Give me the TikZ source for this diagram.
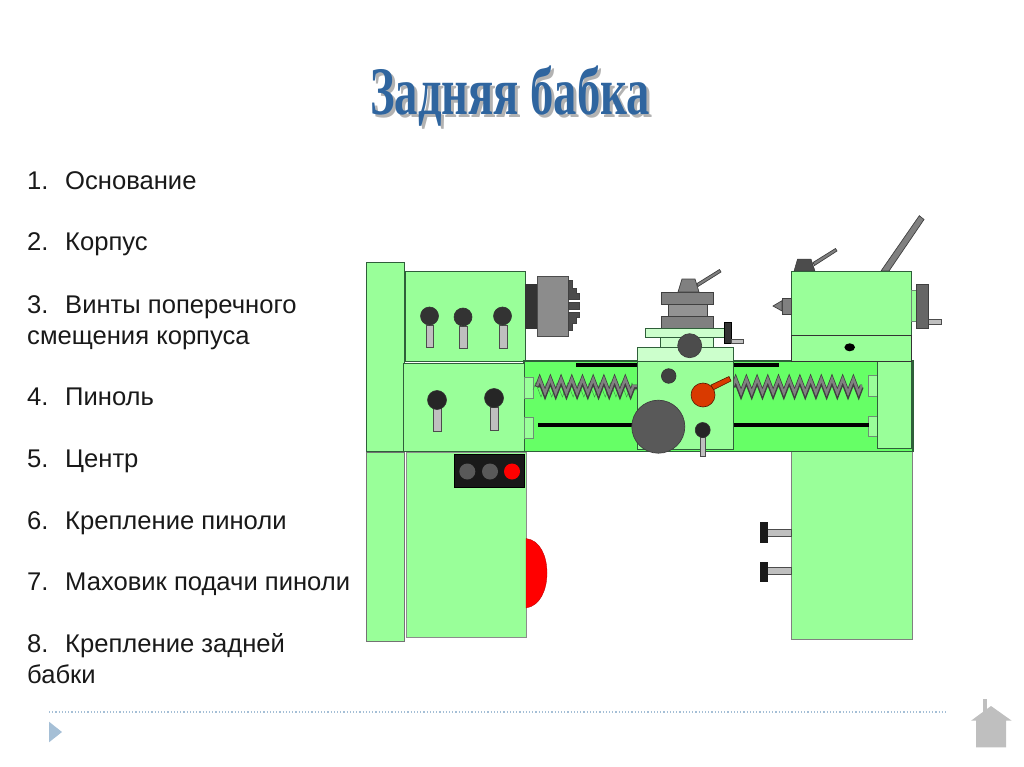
\documentclass[tikz,border=0pt]{standalone}
\usepackage{fontspec}
\usepackage{tikz}
\usetikzlibrary{decorations.pathmorphing}
\setmainfont{Liberation Sans}
\newfontfamily\titlefont{Liberation Serif}
\definecolor{bodygreen}{HTML}{99FF99}
\definecolor{bedgreen}{HTML}{66FF66}
\definecolor{palegreen}{HTML}{CCFFCC}
\definecolor{edgegreen}{HTML}{2F5F3A}
\definecolor{titleblue}{HTML}{2F659F}
\definecolor{steel}{HTML}{808080}
\definecolor{darksteel}{HTML}{595959}
\definecolor{footblue}{HTML}{A5BFD6}
\definecolor{leverred}{HTML}{D93A00}
\newcommand{\titletext}{\scalebox{0.685}[1]{Задняя бабка}}

\begin{document}
\begin{tikzpicture}[
  x=1pt, y=-1pt,
  item/.style={anchor=base west, inner sep=0pt, font=\fontsize{25.6}{30}\selectfont, text=black!90},
  titlenode/.style={inner sep=0pt, font=\titlefont\bfseries\fontsize{68}{78}\selectfont},
  part/.style={draw=edgegreen, line width=0.9pt, fill=bodygreen},
  bed/.style={draw=edgegreen, line width=1.1pt, fill=bedgreen},
  slab/.style={draw=edgegreen, line width=0.8pt, fill=palegreen},
  tag/.style={draw=edgegreen!70!white, line width=0.7pt, fill=bodygreen},
  ball/.style={draw=black!80, line width=0.6pt, fill=black!85},
  stem/.style={draw=black!70, line width=0.7pt, fill=black!25},
  metal/.style={draw=black!75, line width=0.7pt, fill=steel},
  wheel/.style={draw=black!75, line width=0.7pt, fill=darksteel},
  lever/.style={draw=black!60!leverred, line width=0.6pt, fill=leverred},
  bar/.style={fill=black},
  screw/.style={decorate, decoration={zigzag, segment length=10.7pt, amplitude=7pt}}
]
  \useasboundingbox (0,0) rectangle (1024,767);

  % title and list
  \node[titlenode, text=black!30] (titleshadow) at (513,99) {\titletext};
  \node[titlenode, text=titleblue] (title) at (510,96) {\titletext};

  \node[item] (n1) at (27,190) {1.};
  \node[item] (t1) at (65,190) {Основание};
  \node[item] (n2) at (27,251) {2.};
  \node[item] (t2) at (65,251) {Корпус};
  \node[item] (n3) at (27,313) {3.};
  \node[item] (t3) at (65,313) {Винты поперечного};
  \node[item] (t3b) at (27,344) {смещения корпуса};
  \node[item] (n4) at (27,405) {4.};
  \node[item] (t4) at (65,405) {Пиноль};
  \node[item] (n5) at (27,467) {5.};
  \node[item] (t5) at (65,467) {Центр};
  \node[item] (n6) at (27,529) {6.};
  \node[item] (t6) at (65,529) {Крепление пиноли};
  \node[item] (n7) at (27,590) {7.};
  \node[item] (t7) at (65,590) {Маховик подачи пиноли};
  \node[item] (n8) at (27,652) {8.};
  \node[item] (t8) at (65,652) {Крепление задней};
  \node[item] (t8b) at (27,683) {бабки};

  % legs
  \draw[part, draw=black!55] (366.5,452) rectangle (404.5,641);
  \draw[part, draw=black!45] (406,452) rectangle (526,637.5);
  \draw[part, draw=black!50] (791.5,451) rectangle (912,639.5);
  \fill[red, draw=red!70!black, line width=0.3pt] (526,538.5) .. controls (540,540) and (547,556) .. (547,573) .. controls (547,590) and (540,606) .. (526,608) -- cycle;
  \draw[draw=black, fill=black!90] (454.5,454.5) rectangle (524.5,487.5);
  \fill[darksteel] (467.3,471.5) circle (8);
  \fill[darksteel] (490,471.5) circle (8);
  \fill[red] (512,471.5) circle (8);

  % clamps on the right leg
  \draw[stem] (767.5,529.5) rectangle (791,536.5);
  \draw[stem] (767.5,567.5) rectangle (791,574.5);
  \fill[black!90] (759.5,521.5) rectangle (767.5,543);
  \fill[black!90] (759.5,561.5) rectangle (767.5,582);

  % headstock
  \draw[part] (366,262) rectangle (404.5,451);
  \draw[part] (405,271) rectangle (525.5,361);
  \draw[stem] (426,325) rectangle (433,347);
  \draw[stem] (459.5,326) rectangle (467,348);
  \draw[stem] (499,325) rectangle (507,348);
  \draw[ball, fill=black!80] (429.5,316) circle (9);
  \draw[ball, fill=black!80] (463,317) circle (9);
  \draw[ball, fill=black!80] (502.5,316) circle (9);

  \draw[draw=black!80, fill=black!80] (525.5,284) rectangle (537,328);
  \draw[draw=black!70, line width=0.7pt, fill=black!45] (537,276) rectangle (568,336);
  \draw[wheel, fill=black!70] (568,280.3) -- (572.3,280.3) -- (572.3,288.3) -- (576.7,288.3) -- (576.7,293.3) -- (579,293.3) -- (579,299.3) -- (568,299.3) -- cycle;
  \draw[wheel, fill=black!70] (568,302.7) rectangle (579,309.3);
  \draw[wheel, fill=black!70] (568,312) -- (579,312) -- (579,317.3) -- (576.7,317.3) -- (576.7,323.3) -- (572.3,323.3) -- (572.3,330.7) -- (568,330.7) -- cycle;

  % bed
  \draw[bed] (524,361) rectangle (913,451.5);
  \draw[part] (403.5,363) rectangle (524,451);
  \draw[stem] (433,408) rectangle (441,431);
  \draw[stem] (490,407) rectangle (498,430);
  \draw[ball] (437,400) circle (9.5);
  \draw[ball] (494,398) circle (9.5);
  \draw[tag] (524,377) rectangle (533,398);
  \draw[tag] (524,417) rectangle (533,438);
  \draw[tag] (868,375) rectangle (878,396);
  \draw[tag] (868,416) rectangle (878,436);
  \draw[part, line width=0.6pt] (877,361) rectangle (911,448);
  \fill[bar] (576,363) rectangle (779,366.7);
  \fill[bar] (538,423) rectangle (869,427);

  % lead screw
  \draw[screw, edgegreen!70!bedgreen, line width=0.4pt] (533,390) -- (637,390);
  \draw[screw, black!75, line width=4.6pt] (537,387) -- (637,387);
  \draw[screw, steel, line width=2.4pt] (537,386) -- (637,386);
  \draw[screw, black!75, line width=4.6pt] (733,387) -- (862,387);
  \draw[screw, steel, line width=2.4pt] (733,386) -- (862,386);

  % carriage
  \draw[slab] (637,347) rectangle (733,361);
  \draw[slab] (660,337) rectangle (713,347);
  \draw[metal] (661,316) rectangle (713,328);
  \draw[metal, fill=steel!85!white] (668,304) rectangle (707,316);
  \draw[metal] (661,292) rectangle (713,304);
  \draw[metal] (697,283.5) -- (719.5,269.5) -- (721,272) -- (698,286.5) -- cycle;
  \draw[metal] (678,292) -- (682,279) -- (695,279) -- (699,292) -- cycle;
  \draw[slab] (645,328) rectangle (724,337);
  \draw[draw=black, fill=black!80] (724,322) rectangle (731,343);
  \draw[stem] (731,339) rectangle (743,343);
  \draw[wheel, fill=black!70] (689.7,345.7) circle (12);
  \draw[part, line width=0.7pt] (637,361) rectangle (733,449);
  \draw[ball, fill=black!75] (668.7,376) circle (7.3);
  \draw[stem] (700,437) rectangle (705.7,456);
  \draw[ball] (702.7,430) circle (7.5);
  \draw[wheel] (658.3,426.7) circle (26.5);
  \draw[lever] (711,385) -- (729,376.5) -- (731,381) -- (713,390) -- cycle;
  \draw[lever] (703,395) circle (12);

  % tailstock
  \draw[metal] (881,271) -- (919.3,215.7) -- (924,219.5) -- (889,271) -- cycle;
  \draw[metal] (813,262.5) -- (835.5,248.5) -- (837,251) -- (814.5,265.5) -- cycle;
  \draw[draw=black!80, fill=black!70] (794,271) -- (797.5,259) -- (811,259) -- (815,271) -- cycle;
  \draw[part] (791,271) rectangle (911,335);
  \draw[part, draw=black!80] (791,335) rectangle (911,361);
  \fill[black] (849.7,347.3) ellipse (5.3 and 4);
  \draw[metal] (782,298) rectangle (791,314);
  \draw[metal] (782,300.7) -- (773,306) -- (782,311) -- cycle;
  \draw[tag] (911,290) rectangle (916,321);
  \draw[stem] (928,319) rectangle (941,324);
  \draw[wheel, fill=black!60] (916,284) rectangle (928,328);

  % footer
  \draw[footblue, line width=1.2pt, dotted] (49,712) -- (947,712);
  \fill[footblue] (49,721.7) -- (62,732) -- (49,742.3) -- cycle;
  \fill[black!25] (983,699) rectangle (987,713);
  \fill[black!25] (971,720.7) -- (991,706) -- (1011.7,720.7) -- (1006,720.7) -- (1006,747.3) -- (976,747.3) -- (976,720.7) -- cycle;
\end{tikzpicture}
\end{document}
